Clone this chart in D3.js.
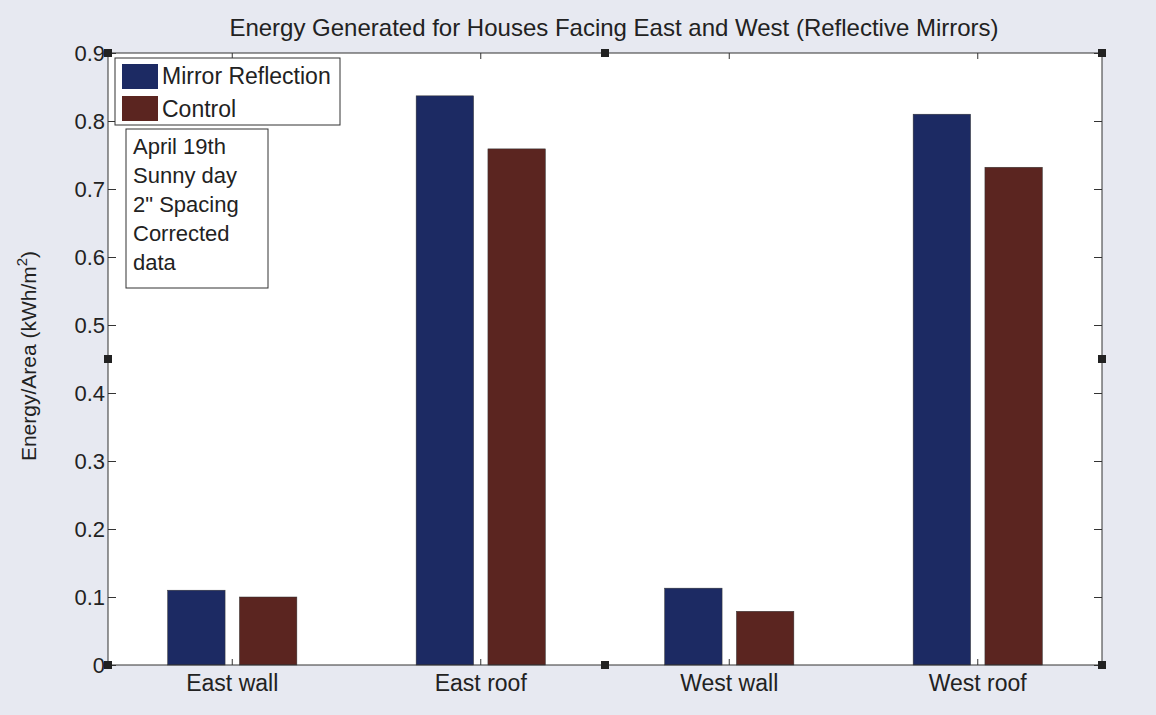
<!DOCTYPE html>
<html lang="en">
<head>
<meta charset="UTF-8">
<title>Energy Generated</title>
<style>
  body { margin: 0; background: #e7e9f1; }
  svg { display: block; font-family: "Liberation Sans", Arial, sans-serif; }
</style>
</head>
<body>
<div id="chart"></div>
<script src="https://cdnjs.cloudflare.com/ajax/libs/d3/7.8.5/d3.min.js"></script>
<script>
// data
const categories = ["East wall", "East roof", "West wall", "West roof"];
const seriesNames = ["Mirror Reflection", "Control"];
const mirrorValues = [0.110, 0.837, 0.113, 0.810];
const controlValues = [0.100, 0.759, 0.079, 0.732];
const yTicks = [0, 0.1, 0.2, 0.3, 0.4, 0.5, 0.6, 0.7, 0.8, 0.9];
const noteLines = ["April 19th", "Sunny day", "2\" Spacing", "Corrected", "data"];

const colors = ["#1c2a63", "#5b2520"];
const W = 1156, H = 715;
const axL = 108, axR = 1102, axT = 53, axB = 665;
const fs = 23;

const svg = d3.select("#chart").append("svg")
    .attr("width", W).attr("height", H);

svg.append("rect").attr("width", W).attr("height", H).attr("fill", "#e7e9f1");

// axes box
svg.append("rect")
    .attr("x", axL).attr("y", axT)
    .attr("width", axR - axL).attr("height", axB - axT)
    .attr("fill", "#fff");

const x = d3.scaleBand().domain(categories).range([axL, axR]).padding(0);
const y = d3.scaleLinear().domain([0, 0.9]).range([axB, axT]);

// grouped bars
const groupW = x.bandwidth() * 0.52;
const xs = d3.scaleBand().domain(seriesNames).range([0, groupW]).paddingInner(0.2);

const rows = categories.map((c, i) => ({ cat: c, vals: [mirrorValues[i], controlValues[i]] }));

svg.append("g").selectAll("g")
    .data(rows).enter().append("g")
    .attr("transform", d => `translate(${x(d.cat) + (x.bandwidth() - groupW) / 2},0)`)
    .selectAll("rect")
    .data(d => d.vals.map((v, j) => ({ v: v, s: seriesNames[j], j: j })))
    .enter().append("rect")
    .attr("x", d => xs(d.s))
    .attr("width", xs.bandwidth())
    .attr("y", d => y(d.v))
    .attr("height", d => axB - y(d.v))
    .attr("fill", d => colors[d.j])
    .attr("stroke", "#333")
    .attr("stroke-width", 0.5);

// frame
svg.append("rect")
    .attr("x", axL).attr("y", axT)
    .attr("width", axR - axL).attr("height", axB - axT)
    .attr("fill", "none").attr("stroke", "#333").attr("stroke-width", 1);

// y axis, ticks inside
const yAxis = d3.axisLeft(y).tickValues(yTicks).tickSize(-8)
    .tickFormat(d => d === 0 ? "0" : d3.format(".1f")(d));
const gy = svg.append("g").attr("transform", `translate(${axL},0)`).call(yAxis);
gy.select(".domain").remove();
gy.selectAll("line").attr("stroke", "#333");
gy.selectAll("text").attr("font-size", 22).attr("fill", "#222").attr("x", -3);

const gyr = svg.append("g").attr("transform", `translate(${axR},0)`)
    .call(d3.axisRight(y).tickValues(yTicks).tickSize(-8).tickFormat(""));
gyr.select(".domain").remove();
gyr.selectAll("line").attr("stroke", "#333");

// x axis
const xAxis = d3.axisBottom(x).tickSize(-6).tickPadding(10);
const gx = svg.append("g").attr("transform", `translate(0,${axB})`).call(xAxis);
gx.select(".domain").remove();
gx.selectAll("line").attr("stroke", "#333");
gx.selectAll("text").attr("font-size", fs).attr("fill", "#222");

const gxt = svg.append("g").attr("transform", `translate(0,${axT})`)
    .call(d3.axisTop(x).tickSize(-6).tickFormat(""));
gxt.select(".domain").remove();
gxt.selectAll("line").attr("stroke", "#333");

// title
svg.append("text")
    .attr("x", 614).attr("y", 36)
    .attr("text-anchor", "middle").attr("font-size", 24).attr("fill", "#222")
    .text("Energy Generated for Houses Facing East and West (Reflective Mirrors)");

// y label
const yl = svg.append("text")
    .attr("transform", `translate(36,356) rotate(-90)`)
    .attr("text-anchor", "middle").attr("font-size", 21).attr("fill", "#222");
yl.append("tspan").text("Energy/Area (kWh/m");
yl.append("tspan").attr("dy", -9).attr("font-size", 15).text("2");
yl.append("tspan").attr("dy", 9).text(")");

// legend
const lg = svg.append("g").attr("transform", "translate(115,58)");
lg.append("rect").attr("width", 225).attr("height", 67)
    .attr("fill", "#fff").attr("stroke", "#333");
seriesNames.forEach((s, i) => {
    lg.append("rect").attr("x", 7).attr("y", 6 + i * 32)
        .attr("width", 36).attr("height", 25).attr("fill", colors[i]);
    lg.append("text").attr("x", 47).attr("y", 26 + i * 33)
        .attr("font-size", fs).attr("fill", "#222").text(s);
});

// note box
const nb = svg.append("g").attr("transform", "translate(126,129)");
nb.append("rect").attr("width", 142).attr("height", 159)
    .attr("fill", "#fff").attr("stroke", "#333");
nb.selectAll("text").data(noteLines).enter().append("text")
    .attr("x", 7).attr("y", (d, i) => 25 + i * 29)
    .attr("font-size", 22).attr("fill", "#222").text(d => d);

// selection handles
const handles = [[axL, axT], [(axL + axR) / 2, axT], [axR, axT],
    [axL, (axT + axB) / 2], [axR, (axT + axB) / 2],
    [axL, axB], [(axL + axR) / 2, axB], [axR, axB]];
svg.append("g").selectAll("rect").data(handles).enter().append("rect")
    .attr("x", d => d[0] - 4).attr("y", d => d[1] - 4)
    .attr("width", 8).attr("height", 8).attr("fill", "#222");
</script>
</body>
</html>
